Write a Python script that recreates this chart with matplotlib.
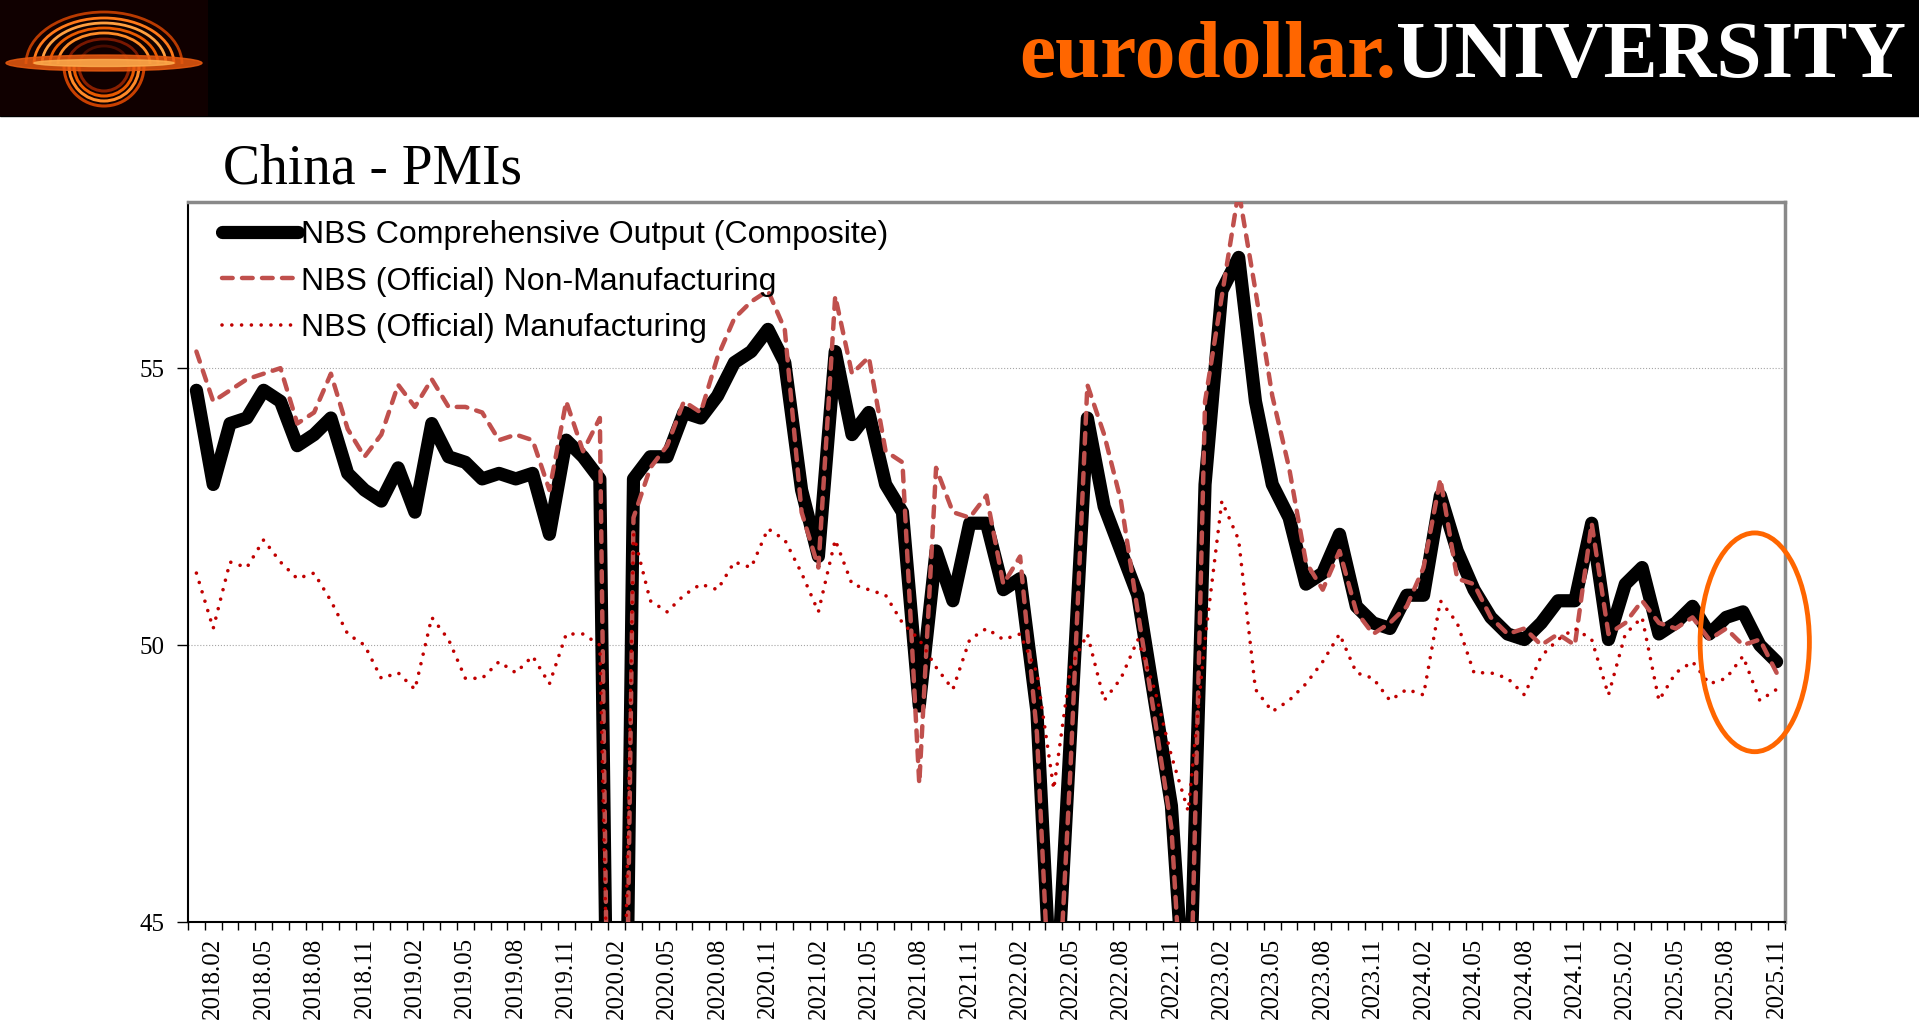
import numpy as np
import matplotlib
matplotlib.use('Agg')
import matplotlib.pyplot as plt
from matplotlib.patches import Ellipse, Rectangle, Arc

# monthly categories, 2018.01 .. 2025.11
months = [f'{y}.{m:02d}' for y in range(2018, 2026) for m in range(1, 13)][:95]

composite = [54.6, 52.9, 54.0, 54.1, 54.6, 54.4, 53.6, 53.8, 54.1, 53.1, 52.8, 52.6,
             53.2, 52.4, 54.0, 53.4, 53.3, 53.0, 53.1, 53.0, 53.1, 52.0, 53.7, 53.4,
             53.0, 28.9, 53.0, 53.4, 53.4, 54.2, 54.1, 54.5, 55.1, 55.3, 55.7, 55.1,
             52.8, 51.6, 55.3, 53.8, 54.2, 52.9, 52.4, 48.9, 51.7, 50.8, 52.2, 52.2,
             51.0, 51.2, 48.8, 42.7, 48.4, 54.1, 52.5, 51.7, 50.9, 49.0, 47.1, 42.6,
             52.9, 56.4, 57.0, 54.4, 52.9, 52.3, 51.1, 51.3, 52.0, 50.7, 50.4, 50.3,
             50.9, 50.9, 52.7, 51.7, 51.0, 50.5, 50.2, 50.1, 50.4, 50.8, 50.8, 52.2,
             50.1, 51.1, 51.4, 50.2, 50.4, 50.7, 50.2, 50.5, 50.6, 50.0, 49.7]

non_mfg = [55.3, 54.4, 54.6, 54.8, 54.9, 55.0, 54.0, 54.2, 54.9, 53.9, 53.4, 53.8,
           54.7, 54.3, 54.8, 54.3, 54.3, 54.2, 53.7, 53.8, 53.7, 52.8, 54.4, 53.5,
           54.1, 29.6, 52.3, 53.2, 53.6, 54.4, 54.2, 55.2, 55.9, 56.2, 56.4, 55.7,
           52.4, 51.4, 56.3, 54.9, 55.2, 53.5, 53.3, 47.5, 53.2, 52.4, 52.3, 52.7,
           51.1, 51.6, 48.4, 41.9, 47.8, 54.7, 53.8, 52.6, 50.6, 48.7, 46.7, 41.6,
           54.4, 56.3, 58.2, 56.4, 54.5, 53.2, 51.5, 51.0, 51.7, 50.6, 50.2, 50.4,
           50.7, 51.4, 53.0, 51.2, 51.1, 50.5, 50.2, 50.3, 50.0, 50.2, 50.0, 52.2,
           50.2, 50.4, 50.8, 50.4, 50.3, 50.5, 50.1, 50.3, 50.0, 50.1, 49.5]

mfg = [51.3, 50.3, 51.5, 51.4, 51.9, 51.5, 51.2, 51.3, 50.8, 50.2, 50.0, 49.4,
       49.5, 49.2, 50.5, 50.1, 49.4, 49.4, 49.7, 49.5, 49.8, 49.3, 50.2, 50.2,
       50.0, 35.7, 52.0, 50.8, 50.6, 50.9, 51.1, 51.0, 51.5, 51.4, 52.1, 51.9,
       51.3, 50.6, 51.9, 51.1, 51.0, 50.9, 50.4, 50.1, 49.6, 49.2, 50.1, 50.3,
       50.1, 50.2, 49.5, 47.4, 49.6, 50.2, 49.0, 49.4, 50.1, 49.2, 48.0, 47.0,
       50.1, 52.6, 51.9, 49.2, 48.8, 49.0, 49.3, 49.7, 50.2, 49.5, 49.4, 49.0,
       49.2, 49.1, 50.8, 50.4, 49.5, 49.5, 49.4, 49.1, 49.8, 50.1, 50.3, 50.1,
       49.1, 50.2, 50.5, 49.0, 49.5, 49.7, 49.3, 49.4, 49.8, 49.0, 49.2]

W, H = 1919, 1022
fig = plt.figure(figsize=(W / 100, H / 100), dpi=100)

# header band
fig.patches.append(Rectangle((0, 1 - 116 / H), 1, 116 / H, transform=fig.transFigure,
                             color='black', zorder=-10))

# logo (rough black-hole glow), drawn in its own pixel box, y grows downward
lax = fig.add_axes([0, 1 - 116 / H, 208 / W, 116 / H], zorder=5)
lax.set_facecolor('#100000')
lax.set_xlim(0, 208)
lax.set_ylim(116, 0)
# upper halo (theta measured with y flipped, so 180-360 is the top half on screen)
for hw, hh, c in [(78, 52, '#b83a00'), (70, 46, '#ff7a1a'), (62, 41, '#ffa040'),
                  (54, 36, '#e85a00'), (46, 31, '#ff8c28'), (36, 25, '#7a1800'),
                  (24, 18, '#4a0c00')]:
    lax.add_patch(Arc((104, 64), 2 * hw, 2 * hh, theta1=180, theta2=360,
                      color=c, lw=2.0))
# lower halo
for hw, hh, c in [(40, 40, '#c84000'), (35, 35, '#ff8a28'), (30, 30, '#e85a00'),
                  (25, 25, '#8a2000')]:
    lax.add_patch(Arc((104, 66), 2 * hw, 2 * hh, theta1=0, theta2=180,
                      color=c, lw=2.2))
lax.add_patch(Ellipse((104, 63), 196, 16, color='#e85a10', alpha=0.85))
lax.add_patch(Ellipse((104, 63), 140, 7, color='#ffb050', alpha=0.8))
lax.set_xticks([])
lax.set_yticks([])
for s in lax.spines.values():
    s.set_visible(False)

t_uni = fig.text(1906 / W, 1 - 77 / H, 'UNIVERSITY', color='white', fontsize=58.5,
                 fontweight='bold', family='Liberation Serif', ha='right', va='baseline')
fig.canvas.draw()
bb = t_uni.get_window_extent()
fig.text(bb.x0 / W, 1 - 77 / H, 'eurodollar.', color='#ff6600', fontsize=58.5,
         fontweight='bold', family='Liberation Serif', ha='right', va='baseline')

fig.text(223 / W, 1 - 183 / H, 'China - PMIs', fontsize=40, family='Liberation Serif',
         ha='left', va='baseline')

ax = fig.add_axes([188 / W, 1 - 922 / H, (1785 - 188) / W, (922 - 202) / H])
x = np.arange(len(months))

ax.plot(x, composite, color='black', lw=9.5, solid_capstyle='round',
        solid_joinstyle='round', label='NBS Comprehensive Output (Composite)', zorder=3)
ax.plot(x, non_mfg, color='#C0504D', lw=3.2, linestyle=(0, (2.4, 2.1)),
        dash_capstyle='round', label='NBS (Official) Non-Manufacturing', zorder=4)
ax.plot(x, mfg, color='#C00000', lw=2.6, linestyle=(0, (0.01, 2.7)),
        dash_capstyle='round', label='NBS (Official) Manufacturing', zorder=5)

ax.set_xlim(-0.5, len(months) - 0.5)
ax.set_ylim(45, 58)
ax.yaxis.grid(True, color='#a6a6a6', lw=0.8, linestyle=':')
ax.set_axisbelow(True)

ax.set_xticks(np.arange(1, len(months), 3))
ax.set_xticklabels(months[1::3], rotation=90)
ax.set_yticks([45, 50, 55])
ax.set_xticks(np.arange(-0.5, len(months), 1), minor=True)
ax.tick_params(axis='x', which='major', length=0, pad=11)
ax.tick_params(axis='x', which='minor', length=6, width=1, direction='out')
ax.tick_params(axis='y', length=8, width=1, pad=9)
ax.tick_params(axis='both', which='major', labelsize=18,
               labelfontfamily='Liberation Serif')

ax.spines['left'].set_color('black')
ax.spines['bottom'].set_color('black')
ax.spines['left'].set_linewidth(1.5)
ax.spines['bottom'].set_linewidth(1.5)
for s in ['top', 'right']:
    ax.spines[s].set_color('#898989')
    ax.spines[s].set_linewidth(2.5)

leg = ax.legend(loc='upper left', bbox_to_anchor=(0.021, 0.975), frameon=False,
                prop={'family': 'Liberation Sans', 'size': 23}, handlelength=2.4,
                handletextpad=0.1, labelspacing=0.52, borderaxespad=0, borderpad=0)

ax.add_patch(Ellipse((92.7, 50.05), 6.5, 3.95, fill=False, edgecolor='#ff6600',
                     lw=3.5, clip_on=False, zorder=6))

fig.savefig('out.png', dpi=100)
